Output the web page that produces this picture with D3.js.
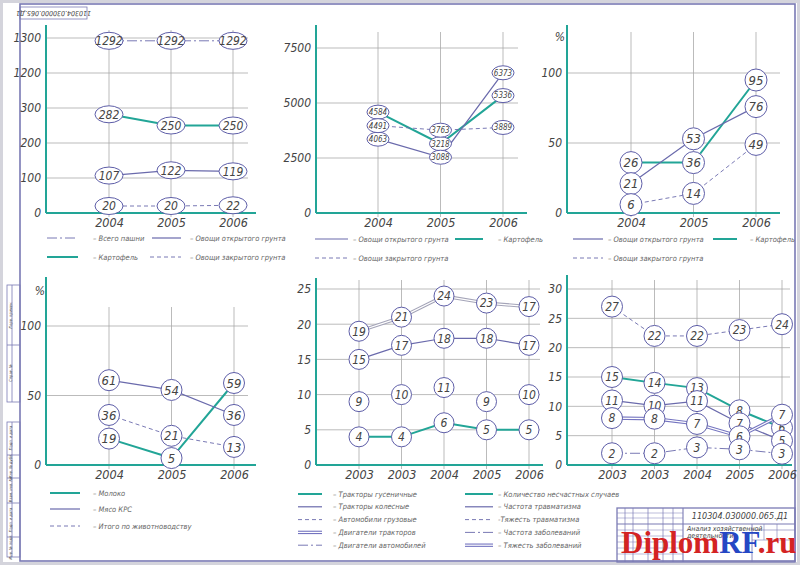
<!DOCTYPE html>
<html>
<head>
<meta charset="utf-8">
<script src="https://cdn.jsdelivr.net/npm/d3@7"></script>
<style>
body { margin: 0; background: #fff; }
svg text { font-family: "Liberation Sans Narrow", "DejaVu Sans Condensed", "Liberation Sans", sans-serif; font-style: italic; fill: #444; }
</style>
</head>
<body>
<svg id="chart" width="800" height="565"></svg>
<script>
// --- data ---
const years3 = ["2004", "2005", "2006"];
const years5 = ["2003", "2003", "2004", "2005", "2006"];

// land use
const landTotal = [1292, 1292, 1292];
const landPotato = [282, 250, 250];
const landVegOpen = [107, 122, 119];
const landVegClosed = [20, 20, 22];
const landTicks = [0, 100, 200, 300, 1200, 1300];
const landLegend = ["– Всего пашни", "– Овощи открытого грунта", "– Картофель", "– Овощи закрытого грунта"];

// yields
const yieldPotato = [4584, 3218, 5336];
const yieldVegOpen = [4063, 3088, 6373];
const yieldVegClosed = [4491, 3763, 3889];
const yieldTicks = [0, 2500, 5000, 7500];
const cropLegend = ["– Овощи открытого грунта", "– Картофель", "– Овощи закрытого грунта"];

// profitability, %
const profPotato = [26, 36, 95];
const profVegOpen = [21, 53, 76];
const profVegClosed = [6, 14, 49];
const pctTicks = [0, 50, 100];

// livestock, %
const animMilk = [19, 5, 59];
const animBeef = [61, 54, 36];
const animTotal = [36, 21, 13];
const animLegend = ["– Молоко", "– Мясо КРС", "– Итого по животноводству"];

// machinery
const crawlerTractors = [4, 4, 6, 5, 5];
const wheeledTractors = [15, 17, 18, 18, 17];
const trucks = [9, 10, 11, 9, 10];
const tractorEngines = [19, 21, 24, 23, 22.5];
const tractorEngineLabels = ["19", "21", "24", "23", "17"];
const fleetTicks = [0, 5, 10, 15, 20, 25];
const fleetLegend = ["– Тракторы гусеничные", "– Тракторы колесные", "– Автомобили грузовые", "– Двигатели тракторов", "– Двигатели автомобилей"];

// safety
const accidents = [15, 14, 13, 8, 6];
const injuryFreq = [11, 10, 11, 7, 5];
const injurySev = [27, 22, 22, 23, 24];
const illnessFreq = [2, 2, 3, 3, 3];
const illnessSev = [8, 8, 7, 6, 7];
const safetyTicks = [0, 5, 10, 15, 20, 25, 30];
const safetyLegend = ["– Количество несчастных случаев", "– Частота травматизма", "-Тяжесть  травматизма", "– Частота заболеваний", "– Тяжесть заболеваний"];

const TEAL = "#22a597", PURPLE = "#6a6aac", GRID = "#aaaaaa", FRAME = "#7a7ab4";

const svg = d3.select("#chart");

function drawLine(g, pts, style) {
    if (style === "none") return;
    const path = d3.line()(pts);
    if (style === "double" || style === "doubleGray") {
        g.append("path").attr("d", path).attr("fill", "none")
            .attr("stroke", style === "double" ? "#7474c0" : "#a4a4b8").attr("stroke-width", 3.4);
        g.append("path").attr("d", path).attr("fill", "none")
            .attr("stroke", "#fff").attr("stroke-width", 1.2);
        return;
    }
    const p = g.append("path").attr("d", path).attr("fill", "none");
    if (style === "teal") p.attr("stroke", TEAL).attr("stroke-width", 2);
    else if (style === "solid") p.attr("stroke", PURPLE).attr("stroke-width", 1.2);
    else if (style === "dashed") p.attr("stroke", PURPLE).attr("stroke-width", 0.9).attr("stroke-dasharray", "4,3");
    else if (style === "dashdot") p.attr("stroke", PURPLE).attr("stroke-width", 0.9).attr("stroke-dasharray", "10,3,2,3");
}

function dodge(items, mode, gap) {
    if (mode === "down") {
        items.sort((a, b) => a.y - b.y);
        for (let k = 1; k < items.length; k++) items[k].y = Math.max(items[k].y, items[k - 1].y + gap);
    } else if (mode === "up") {
        items.sort((a, b) => b.y - a.y);
        for (let k = 1; k < items.length; k++) items[k].y = Math.min(items[k].y, items[k - 1].y - gap);
    } else {
        for (let it = 0; it < 30; it++) {
            items.sort((a, b) => a.y - b.y);
            for (let k = 1; k < items.length; k++) {
                const dy = items[k].y - items[k - 1].y;
                if (dy < gap) { items[k].y += (gap - dy) / 2; items[k - 1].y -= (gap - dy) / 2; }
            }
        }
    }
}

function drawPanel(c) {
    const g = svg.append("g");
    const x = d3.scalePoint().domain(d3.range(c.cats.length)).range(c.xRange);
    const y = d3.scaleLinear().domain(c.yDomain).range(c.yRange);
    const y0 = y(0);

    g.selectAll(".hg").data(c.ticks.filter(t => t > 0)).join("line")
        .attr("x1", c.axisX).attr("x2", c.gridRight)
        .attr("y1", d => y(d)).attr("y2", d => y(d))
        .attr("stroke", GRID).attr("stroke-width", 0.8);
    g.selectAll(".vg").data(x.domain()).join("line")
        .attr("x1", d => x(d)).attr("x2", d => x(d))
        .attr("y1", c.vTop).attr("y2", y0 + 4)
        .attr("stroke", GRID).attr("stroke-width", 0.8);

    const ya = g.append("g").attr("transform", `translate(${c.axisX},0)`)
        .call(d3.axisLeft(y).tickValues(c.ticks).tickSize(0).tickPadding(5).tickFormat(d3.format("d")))
        .attr("font-family", null).attr("font-size", 12);
    ya.select(".domain").remove();

    const xa = g.append("g").attr("transform", `translate(0,${y0})`)
        .call(d3.axisBottom(x).tickSize(0).tickPadding(5).tickFormat(i => c.cats[i]))
        .attr("font-family", null).attr("font-size", 12.5);
    xa.select(".domain").remove();

    g.append("line").attr("x1", c.axisX).attr("x2", c.axisX).attr("y1", c.axisTop).attr("y2", y0)
        .attr("stroke", TEAL).attr("stroke-width", 2);
    g.append("line").attr("x1", c.axisX).attr("x2", c.axisRight).attr("y1", y0).attr("y2", y0)
        .attr("stroke", TEAL).attr("stroke-width", 2);

    if (c.pct) g.append("text").attr("x", c.pct[0]).attr("y", c.pct[1]).attr("text-anchor", "end")
        .attr("font-size", 12).text("%");

    // label positions, spread apart where circles would collide
    const pos = c.series.map(s => s.values.map(v => y(v)));
    x.domain().forEach(i => {
        const items = c.series.map((s, k) => ({ k, y: pos[k][i] }));
        dodge(items, c.dodge, c.gap);
        items.forEach(it => { pos[it.k][i] = it.y; });
    });

    const lines = g.append("g");
    c.series.forEach((s, k) => drawLine(lines, s.values.map((v, i) => [x(i), pos[k][i]]), s.style));

    const marks = g.append("g");
    c.series.forEach((s, k) => {
        const mg = marks.selectAll(null).data(s.values).join("g")
            .attr("transform", (v, i) => `translate(${x(i)},${pos[k][i]})`);
        mg.append("ellipse").attr("rx", c.rx).attr("ry", c.ry)
            .attr("fill", "#fff").attr("stroke", "#5e5ea8").attr("stroke-width", 1);
        mg.append("text").attr("text-anchor", "middle").attr("dy", "0.36em")
            .attr("font-size", c.font)
            .text((v, i) => s.labels ? s.labels[i] : v);
    });

    if (c.legend) {
        const lg = g.append("g");
        c.legend.forEach(l => {
            drawLine(lg, [[l.x1, l.y], [l.x2, l.y]], l.style);
            lg.append("text").attr("x", l.tx).attr("y", l.y).attr("dy", "0.35em")
                .attr("font-size", 7.5).style("fill", "#666").text(l.text);
        });
    }
}

// --- frame ---
svg.append("rect").attr("x", 1.5).attr("y", 1.5).attr("width", 797).attr("height", 562)
    .attr("fill", "none").attr("stroke", "#d4d4dc").attr("stroke-width", 3);
svg.append("rect").attr("x", 20).attr("y", 4).attr("width", 775).attr("height", 557)
    .attr("fill", "none").attr("stroke", FRAME).attr("stroke-width", 1.6);
svg.append("rect").attr("x", 20).attr("y", 7).attr("width", 67).attr("height", 12)
    .attr("fill", "none").attr("stroke", FRAME).attr("stroke-width", 0.8);
svg.append("text").attr("transform", "translate(53.5,13) rotate(180)").attr("text-anchor", "middle")
    .attr("dy", "0.35em").attr("font-size", 7).text("110304.030000.065.Д1");

// side stamp
const stamp = svg.append("g").attr("stroke", FRAME).attr("stroke-width", 0.8).attr("fill", "none");
[[285, 402, [345]], [422, 557, [455, 478, 503, 537]]].forEach(([t, b, divs]) => {
    stamp.append("rect").attr("x", 7).attr("y", t).attr("width", 13).attr("height", b - t);
    stamp.append("line").attr("x1", 12).attr("x2", 12).attr("y1", t).attr("y2", b);
    divs.forEach(d => stamp.append("line").attr("x1", 7).attr("x2", 20).attr("y1", d).attr("y2", d));
});
[["Перв. примен.", 315], ["Справ. №", 373], ["Подп. и дата", 438], ["Инв. № дубл.", 466], ["Взам. инв. №", 490], ["Подп. и дата", 520], ["Инв. № подл.", 547]]
    .forEach(([t, cy]) => svg.append("text").attr("transform", `translate(10.5,${cy}) rotate(-90)`)
        .attr("text-anchor", "middle").attr("font-size", 4).attr("dy", "0.35em").text(t));

// --- panels ---
drawPanel({
    cats: years3, xRange: [109, 233], yDomain: [0, 300, 1200, 1300], yRange: [213, 108, 73, 38],
    ticks: landTicks, axisX: 46, axisTop: 25, axisRight: 256, gridRight: 248, vTop: 30,
    rx: 14, ry: 8.5, font: 12, dodge: "center", gap: 17,
    series: [
        { values: landTotal, style: "dashdot" },
        { values: landPotato, style: "teal" },
        { values: landVegOpen, style: "solid" },
        { values: landVegClosed, style: "dashed" }
    ],
    legend: [
        { x1: 47, x2: 78, tx: 93, y: 238, style: "dashdot", text: landLegend[0] },
        { x1: 152, x2: 181, tx: 190, y: 238, style: "solid", text: landLegend[1] },
        { x1: 47, x2: 78, tx: 93, y: 257, style: "teal", text: landLegend[2] },
        { x1: 150, x2: 181, tx: 190, y: 257, style: "dashed", text: landLegend[3] }
    ]
});

drawPanel({
    cats: years3, xRange: [378, 503], yDomain: [0, 7500], yRange: [213, 48],
    ticks: yieldTicks, axisX: 316, axisTop: 25, axisRight: 527, gridRight: 518, vTop: 32,
    rx: 11, ry: 7, font: 8, dodge: "down", gap: 13.5,
    series: [
        { values: yieldPotato, style: "teal" },
        { values: yieldVegOpen, style: "solid" },
        { values: yieldVegClosed, style: "dashed" }
    ],
    legend: [
        { x1: 315, x2: 348, tx: 353, y: 239, style: "solid", text: cropLegend[0] },
        { x1: 455, x2: 483, tx: 498, y: 239, style: "teal", text: cropLegend[1] },
        { x1: 315, x2: 348, tx: 353, y: 258, style: "dashed", text: cropLegend[2] }
    ]
});

drawPanel({
    cats: years3, xRange: [631, 756], yDomain: [0, 100], yRange: [213, 73],
    ticks: pctTicks, axisX: 567, axisTop: 25, axisRight: 780, gridRight: 780, vTop: 32,
    rx: 11, ry: 11, font: 13, dodge: "up", gap: 21, pct: [565, 41],
    series: [
        { values: profPotato, style: "teal" },
        { values: profVegOpen, style: "solid" },
        { values: profVegClosed, style: "dashed" }
    ],
    legend: [
        { x1: 573, x2: 603, tx: 608, y: 239, style: "solid", text: cropLegend[0] },
        { x1: 713, x2: 737, tx: 750, y: 239, style: "teal", text: cropLegend[1] },
        { x1: 573, x2: 603, tx: 608, y: 258, style: "dashed", text: cropLegend[2] }
    ]
});

drawPanel({
    cats: years3, xRange: [109, 234], yDomain: [0, 100], yRange: [465, 326],
    ticks: pctTicks, axisX: 46, axisTop: 277, axisRight: 256, gridRight: 248, vTop: 307,
    rx: 10.5, ry: 10.5, font: 13, dodge: "center", gap: 20, pct: [45, 295],
    series: [
        { values: animMilk, style: "teal" },
        { values: animBeef, style: "solid" },
        { values: animTotal, style: "dashed" }
    ],
    legend: [
        { x1: 50, x2: 80, tx: 93, y: 493, style: "teal", text: animLegend[0] },
        { x1: 50, x2: 80, tx: 93, y: 509, style: "solid", text: animLegend[1] },
        { x1: 50, x2: 80, tx: 93, y: 526, style: "dashed", text: animLegend[2] }
    ]
});

drawPanel({
    cats: years5, xRange: [359, 529], yDomain: [0, 25], yRange: [465, 289],
    ticks: fleetTicks, axisX: 316, axisTop: 278, axisRight: 543, gridRight: 540, vTop: 280,
    rx: 10, ry: 10, font: 12, dodge: "center", gap: 20,
    series: [
        { values: crawlerTractors, style: "teal" },
        { values: wheeledTractors, style: "solid" },
        { values: trucks, style: "none" },
        { values: tractorEngines, labels: tractorEngineLabels, style: "doubleGray" }
    ],
    legend: fleetLegend.map((t, i) => ({
        x1: 298, x2: 322, tx: 333, y: 494 + i * 12.8, text: t,
        style: ["teal", "solid", "dashed", "double", "dashdot"][i]
    }))
});

drawPanel({
    cats: years5, xRange: [612, 782], yDomain: [0, 30], yRange: [465, 289],
    ticks: safetyTicks, axisX: 567, axisTop: 275, axisRight: 792, gridRight: 790, vTop: 280,
    rx: 10.5, ry: 10.5, font: 12, dodge: "center", gap: 13,
    series: [
        { values: injurySev, style: "dashed" },
        { values: accidents, style: "teal" },
        { values: injuryFreq, style: "solid" },
        { values: illnessSev, style: "double" },
        { values: illnessFreq, style: "dashdot" }
    ],
    legend: safetyLegend.map((t, i) => ({
        x1: 465, x2: 493, tx: 498, y: 494 + i * 12.8, text: t,
        style: ["teal", "solid", "dashed", "dashdot", "double"][i]
    }))
});

// --- title block ---
const tb = svg.append("g").attr("stroke", FRAME).attr("fill", "none");
tb.append("rect").attr("x", 617).attr("y", 508).attr("width", 178).attr("height", 54).attr("stroke-width", 1.3);
tb.append("line").attr("x1", 617).attr("x2", 795).attr("y1", 524).attr("y2", 524).attr("stroke-width", 1.1);
[625, 633, 648, 663, 673].forEach(v => tb.append("line").attr("x1", v).attr("x2", v).attr("y1", 508).attr("y2", 562).attr("stroke-width", 0.7));
[513, 518, 530, 536, 542, 548, 554].forEach(v => tb.append("line").attr("x1", 617).attr("x2", 683).attr("y1", v).attr("y2", v).attr("stroke-width", 0.5));
tb.append("line").attr("x1", 683).attr("x2", 683).attr("y1", 508).attr("y2", 562).attr("stroke-width", 1.1);
tb.append("line").attr("x1", 752).attr("x2", 752).attr("y1", 524).attr("y2", 562).attr("stroke-width", 0.9);
[764, 777].forEach(v => tb.append("line").attr("x1", v).attr("x2", v).attr("y1", 524).attr("y2", 540).attr("stroke-width", 0.6));
[530, 540].forEach(v => tb.append("line").attr("x1", 752).attr("x2", 795).attr("y1", v).attr("y2", v).attr("stroke-width", 0.6));
svg.append("text").attr("x", 740).attr("y", 519).attr("text-anchor", "middle").attr("font-size", 9).text("110304.030000.065.Д1");
svg.append("text").attr("x", 687).attr("y", 531).attr("font-size", 7).text("Анализ хозяйственной");
svg.append("text").attr("x", 687).attr("y", 538).attr("font-size", 7).text("деятельности");

// watermark
const wm = svg.append("text").attr("x", 621).attr("y", 553)
    .style("font-family", "'Liberation Serif','DejaVu Serif',serif").style("font-style", "normal")
    .style("font-weight", "bold").attr("font-size", 31);
wm.append("tspan").style("fill", "#d42323").text("Diplom");
wm.append("tspan").style("fill", "#2547c4").text("RF");
wm.append("tspan").style("fill", "#d42323").text(".ru");
</script>
</body>
</html>
